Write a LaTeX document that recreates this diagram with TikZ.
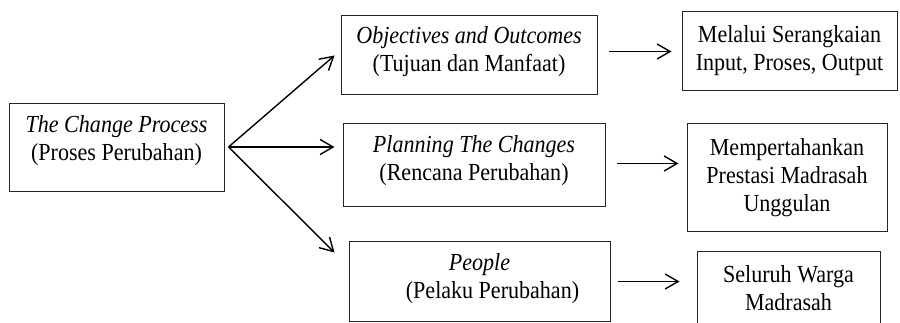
\documentclass[tikz,border=0pt]{standalone}
\usepackage{fontspec}
\setmainfont{Liberation Serif}[FakeStretch=0.9]
\usetikzlibrary{arrows.meta}
\begin{document}
\begin{tikzpicture}[x=1pt,y=-1pt,
  box/.style={draw=black!85,line width=1pt,inner sep=0pt,minimum width=#1},
  txt/.style={align=center,inner sep=0pt,anchor=north,font=\fontsize{24.5}{28}\selectfont},
  arr/.style={line width=1.4pt,-{Straight Barb[length=13pt,width=15pt,line width=1.4pt]}}]
\clip (0,0) rectangle (900,323);
% boxes
\node[box=215pt,minimum height=88pt] (a) at (116.5,148) {};
\node[box=256pt,minimum height=79pt] (b) at (469,55.5) {};
\node[box=215pt,minimum height=79pt] (c) at (789.5,51.5) {};
\node[box=262pt,minimum height=83pt] (p) at (474,165.5) {};
\node[box=200pt,minimum height=108pt] (d) at (787,178) {};
\node[box=261pt,minimum height=79pt] (q) at (479.5,281.5) {};
\node[box=183pt,minimum height=100pt] (e) at (788.5,302) {};
% texts
\node[txt] (at) at (116.5,112.4) {\strut\textit{The Change Process}\\\strut(Proses Perubahan)};
\node[txt] (bt) at (469,23.4) {\strut\textit{Objectives and Outcomes}\\\strut(Tujuan dan Manfaat)};
\node[txt] (ct) at (789.5,22.4) {\strut Melalui Serangkaian\\\strut Input, Proses, Output};
\node[txt] (pt) at (474,132.4) {\strut\textit{Planning The Changes}\\\strut(Rencana Perubahan)};
\node[txt] (dt) at (787,135.4) {\strut Mempertahankan\\\strut Prestasi Madrasah\\\strut Unggulan};
\node[txt] (qt) at (479.5,250.4) {\strut\textit{People}\\\strut\hspace*{26pt}(Pelaku Perubahan)};
\node[txt] (et) at (788.5,262.4) {\strut Seluruh Warga\\\strut Madrasah};
% connectors
\coordinate (o) at ([xshift=4pt,yshift=1pt]a.east);
\coordinate (tb) at ([xshift=-6pt]b.west);
\coordinate (tp) at (p.west |- o);
\coordinate (tq) at ([xshift=-14pt,yshift=-11pt]q.north west);
\draw[arr] (o) -- (tb);
\draw[arr,shorten >=8pt] (o) -- (tp);
\draw[arr] (o) -- (tq);
\draw[arr,shorten <=11pt,shorten >=10pt] (b.east |- c.west) -- (c.west);
\draw[arr,shorten <=11pt,shorten >=8pt] ([yshift=2pt]p.east) -- ([yshift=2pt]p.east -| d.west);
\draw[arr,shorten <=7pt,shorten >=17pt] (q.east) -- (q.east -| e.west);
\end{tikzpicture}
\end{document}
